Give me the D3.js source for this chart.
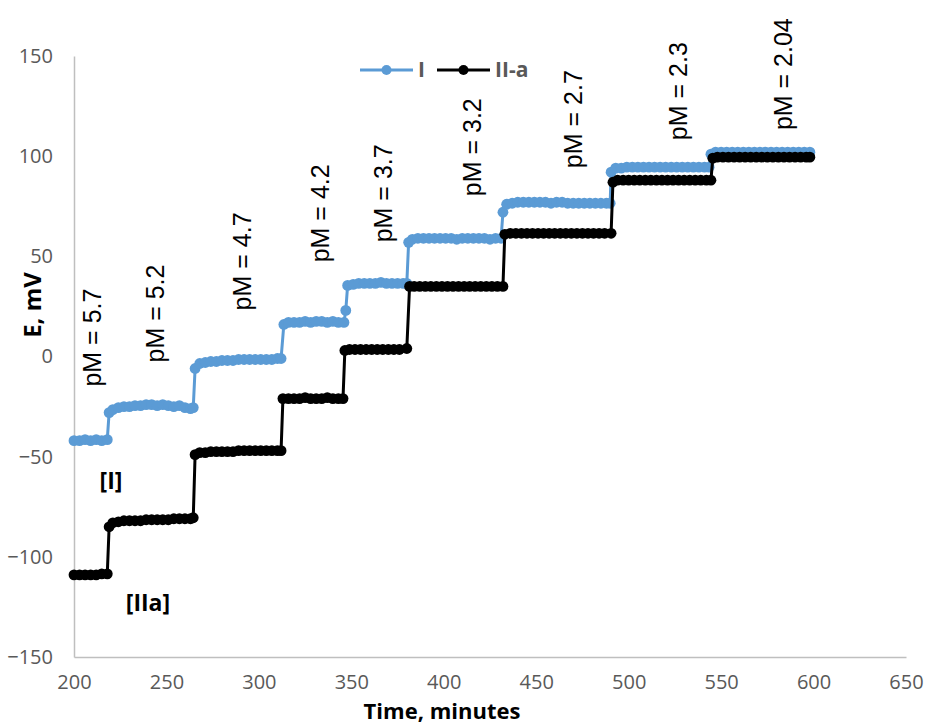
<!DOCTYPE html>
<html>
<head>
<meta charset="utf-8">
<script src="https://cdn.jsdelivr.net/npm/d3@7"></script>
<style>
  body { margin: 0; background: #fff; }
  svg { display: block; }
</style>
</head>
<body>
<svg></svg>
<script>

// series I, [minutes, mV]
const seriesI = [
    [200,-42],[203,-42],[206,-41.5],[209,-42],[212,-41.5],[215,-42],[218,-41.5],
    [219,-28],[221,-26.5],[224,-25.5],[227,-25],[230,-25],[233,-24.5],[236,-24.5],[239,-24],[242,-24],[245,-24.5],[248,-24],[251,-24.5],[254,-25],[257,-24.5],[260,-25.5],[263,-26],[264.5,-25.5],
    [265.5,-6],[268,-3.5],[271,-3],[274,-2.5],[277,-2.5],[280,-2],[283,-2],[286,-2],[289,-1.5],[292,-1.5],[295,-1.5],[298,-1.5],[301,-1.5],[304,-1.5],[307,-1.5],[310,-1],[312,-1],
    [313.5,16],[316,17],[319,17],[322,17],[325,17.5],[328,17],[331,17.5],[334,17.5],[337,17],[340,17.5],[343,17],[346,17],
    [347,23],[348,35.5],[351,36],[354,36.5],[357,36.5],[360,36.5],[363,36.5],[366,37],[369,36.5],[372,36.5],[375,36.5],[378,36.5],[380,36.5],
    [381,57],[383,58.5],[386,59],[389,59],[392,59],[395,59],[398,59],[401,59],[404,59],[407,58.5],[410,59],[413,59],[416,59],[419,59],[422,59],[425,58.5],[428,59],[431,59],
    [432,72],[434,76],[437,76.5],[440,77],[443,77],[446,77],[449,77],[452,77],[455,77],[458,76.5],[461,77],[464,77],[467,76.5],[470,76.5],[473,76.5],[476,76.5],[479,76.5],[482,76.5],[485,76.5],[488,76.5],[490,76.5],
    [490.5,92],[493,94],[496,94],[499,94.5],[502,94.5],[505,94.5],[508,94.5],[511,94.5],[514,94.5],[517,94.5],[520,94.5],[523,94.5],[526,94.5],[529,94.5],[532,94.5],[535,94.5],[538,94.5],[541,94.5],[543.5,94.5],
    [544.5,101],[547,102],[550,102],[553,102],[556,102],[559,102],[562,102],[565,102],[568,102],[571,102],[574,102],[577,102],[580,102],[583,102],[586,102],[589,102],[592,102],[595,102],[598,102]
]

// series II-a
const seriesIIa = [
    [200,-109],[203,-109],[206,-109],[209,-109],[212,-109],[215,-108.5],[218,-108.5],
    [219,-85],[221,-83],[224,-82.5],[227,-82],[230,-82],[233,-82],[236,-82],[239,-81.5],[242,-81.5],[245,-81.5],[248,-81.5],[251,-81.5],[254,-81],[257,-81],[260,-81],[263,-81],[264.5,-80.5],
    [265.5,-49],[268,-48],[271,-48],[274,-47.5],[277,-47.5],[280,-47.5],[283,-47.5],[286,-47.5],[289,-47],[292,-47],[295,-47],[298,-47],[301,-47],[304,-47],[307,-47],[310,-47],[312,-47],
    [313,-21],[316,-21],[319,-21],[322,-21],[325,-20.5],[328,-21],[331,-21],[334,-21],[337,-20.5],[340,-21],[343,-21],[345.5,-21],
    [346.5,3],[349,3.5],[352,3.5],[355,3.5],[358,3.5],[361,3.5],[364,3.5],[367,3.5],[370,3.5],[373,3.5],[376,3.5],[380,4],
    [381.5,35],[384,35],[387,35],[390,35],[393,35],[396,35],[399,35],[402,35],[405,35],[408,35],[411,35],[414,35],[417,35],[420,35],[423,35],[426,35],[429,35],[432,35],
    [433,61],[436,61.5],[439,61.5],[442,61.5],[445,61.5],[448,61.5],[451,61.5],[454,61.5],[457,61.5],[460,61.5],[463,61.5],[466,61.5],[469,61.5],[472,61.5],[475,61.5],[478,61.5],[481,61.5],[484,61.5],[487,61.5],[490.5,61.5],
    [491.5,87],[494,88],[497,88],[500,88],[503,88],[506,88],[509,88],[512,88],[515,88],[518,88],[521,88],[524,88],[527,88],[530,88],[533,88],[536,88],[539,88],[542,88],[544.5,88],
    [545.5,99],[548,99.5],[551,99.5],[554,99.5],[557,99.5],[560,99.5],[563,99.5],[566,99.5],[569,99.5],[572,99.5],[575,99.5],[578,99.5],[581,99.5],[584,99.5],[587,99.5],[590,99.5],[593,99.5],[596,99.5],[598,99.5]
]

const seriesNames = ["I", "II-a"]
const seriesColors = ["#5b9bd5", "#000000"]

const xTicks = [200, 250, 300, 350, 400, 450, 500, 550, 600, 650]
const yTicks = [-150, -100, -50, 0, 50, 100, 150]

// pM annotations: label, minutes, mV (bottom of the rotated text)
const pmLabels = ["pM = 5.7", "pM = 5.2", "pM = 4.7", "pM = 4.2", "pM = 3.7", "pM = 3.2", "pM = 2.7", "pM = 2.3", "pM = 2.04"]
const pmTimes = [209.7, 243.8, 290.9, 333, 367, 415, 470, 526.7, 583.5]
const pmValues = [-15, -3, 23, 47, 57, 80, 94, 108, 113]

// compound tags
const tagLabels = ["[I]", "[IIa]"]
const tagTimes = [220, 240]
const tagValues = [-62, -123]


const width = 926
const height = 726
const margin = {top: 56, right: 20, bottom: 69, left: 74}

const svg = d3.select("svg")
    .attr("width", width)
    .attr("height", height)

const x = d3.scaleLinear()
    .domain([200, 650])
    .range([margin.left, width - margin.right])

const y = d3.scaleLinear()
    .domain([-150, 150])
    .range([height - margin.bottom, margin.top])

const tickFont = "'Open Sans', sans-serif"

// axes
svg.append("g")
    .attr("transform", `translate(0, ${height - margin.bottom})`)
    .call(d3.axisBottom(x).tickValues(xTicks).tickSize(0).tickPadding(18))

svg.append("g")
    .attr("transform", `translate(${margin.left}, 0)`)
    .call(d3.axisLeft(y).tickValues(yTicks).tickSize(0).tickPadding(21))

svg.selectAll(".domain")
    .attr("stroke", "#bfbfbf")
    .attr("stroke-width", 1.5)

svg.selectAll(".tick text")
    .attr("font-family", tickFont)
    .attr("font-size", 20)
    .attr("fill", "#595959")

// series
const lineGen = d3.line()
    .x(d => x(d[0]))
    .y(d => y(d[1]))

const allSeries = [seriesI, seriesIIa]

allSeries.forEach(function (data, i) {
    const g = svg.append("g")

    g.append("path")
        .datum(data)
        .attr("d", lineGen)
        .attr("fill", "none")
        .attr("stroke", seriesColors[i])
        .attr("stroke-width", 3)

    g.selectAll("circle")
        .data(data)
        .enter()
        .append("circle")
        .attr("cx", d => x(d[0]))
        .attr("cy", d => y(d[1]))
        .attr("r", 5.4)
        .attr("fill", seriesColors[i])
})

// pM labels
svg.selectAll("text.pm")
    .data(pmLabels)
    .enter()
    .append("text")
    .attr("class", "pm")
    .attr("transform", (d, i) => `translate(${x(pmTimes[i])}, ${y(pmValues[i])}) rotate(-90)`)
    .attr("dy", "0.36em")
    .attr("font-family", "'Liberation Sans', Arial, sans-serif")
    .attr("font-size", 25)
    .attr("fill", "#000")
    .text(d => d)

svg.selectAll("text.tag")
    .data(tagLabels)
    .enter()
    .append("text")
    .attr("class", "tag")
    .attr("x", (d, i) => x(tagTimes[i]))
    .attr("y", (d, i) => y(tagValues[i]))
    .attr("dy", "0.35em")
    .attr("text-anchor", "middle")
    .attr("font-family", tickFont)
    .attr("font-weight", "bold")
    .attr("font-size", 23)
    .attr("fill", "#000")
    .text(d => d)

// legend
const legend = svg.append("g")
    .attr("transform", "translate(360, 70)")

const legendOffsets = [0, 77]

seriesNames.forEach(function (name, i) {
    const item = legend.append("g")
        .attr("transform", `translate(${legendOffsets[i]}, 0)`)

    item.append("line")
        .attr("x1", 0)
        .attr("x2", 53)
        .attr("stroke", seriesColors[i])
        .attr("stroke-width", 3)

    item.append("circle")
        .attr("cx", 26.5)
        .attr("r", 5)
        .attr("fill", seriesColors[i])

    item.append("text")
        .attr("x", 58)
        .attr("dy", "0.35em")
        .attr("font-family", tickFont)
        .attr("font-weight", "bold")
        .attr("font-size", 21)
        .attr("fill", "#595959")
        .text(name)
})

// axis titles
svg.append("text")
    .attr("x", 442)
    .attr("y", 711)
    .attr("dy", "0.35em")
    .attr("text-anchor", "middle")
    .attr("font-family", tickFont)
    .attr("font-weight", "bold")
    .attr("font-size", 22)
    .attr("fill", "#000")
    .text("Time, minutes")

svg.append("text")
    .attr("transform", "translate(33, 305) rotate(-90)")
    .attr("dy", "0.35em")
    .attr("text-anchor", "middle")
    .attr("font-family", tickFont)
    .attr("font-weight", "bold")
    .attr("font-size", 24)
    .attr("fill", "#000")
    .text("E, mV")

</script>
</body>
</html>
